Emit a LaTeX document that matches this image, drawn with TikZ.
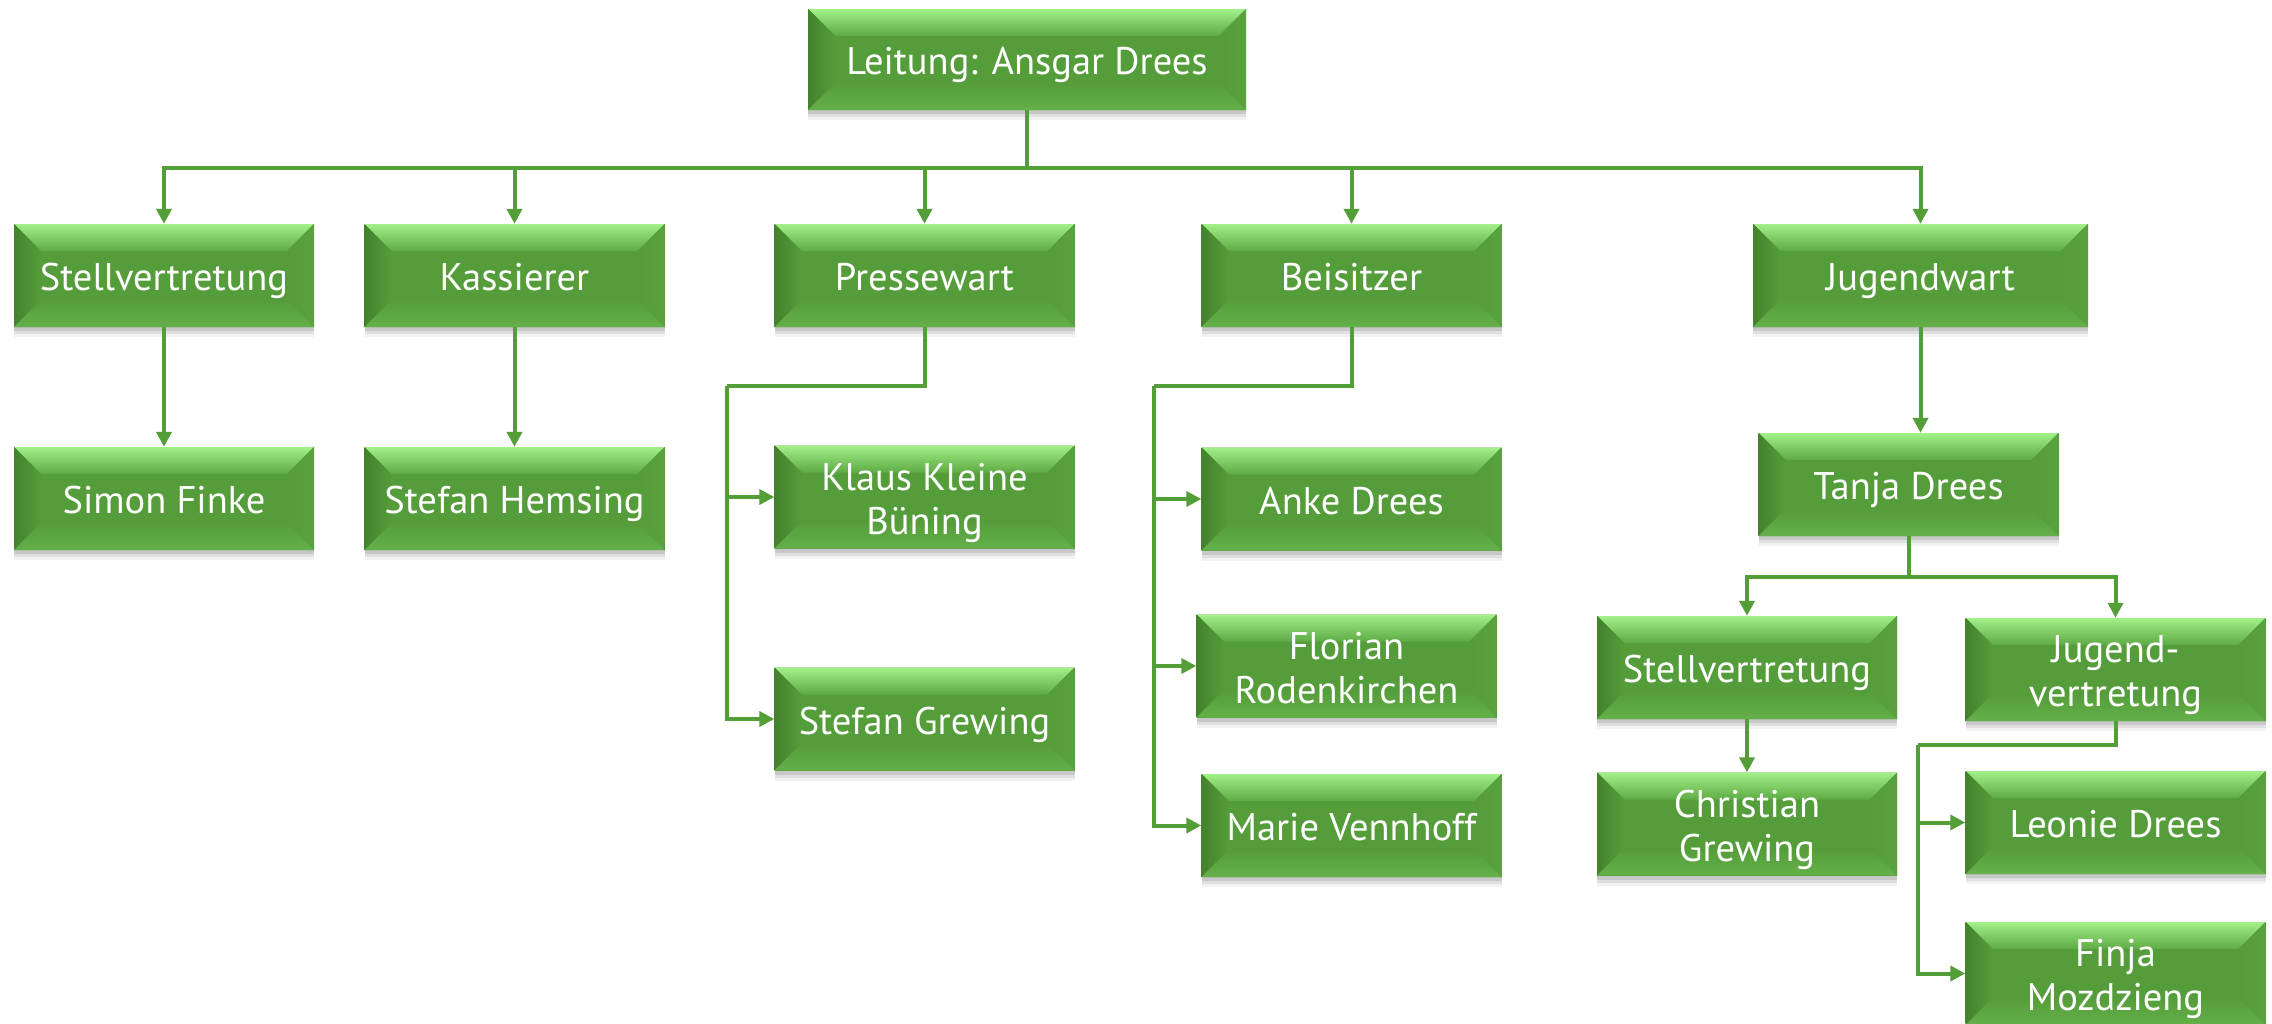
\documentclass[tikz,border=0pt]{standalone}
\usepackage{fontspec}
\setmainfont{PT Sans}
\usetikzlibrary{arrows.meta}
\definecolor{face}{RGB}{85,157,58}
\definecolor{hi}{RGB}{162,240,136}
\definecolor{himid}{RGB}{94,170,68}
\definecolor{dkL}{RGB}{68,130,46}
\definecolor{rgt}{RGB}{90,162,64}
\definecolor{bot}{RGB}{100,176,74}
\definecolor{linec}{RGB}{84,158,56}
\newcommand\tup{\rule{0pt}{1em}}
\newcommand\tdn{\rule[-0.2em]{0pt}{0.2em}}
\tikzset{
  orgbox/.style={rectangle, minimum width=#1, minimum height=103pt, inner sep=0pt,
    text=white, align=center, font=\fontsize{38.5}{44}\selectfont, fill=face,
    preaction={fill=black, fill opacity=0.05, transform canvas={yshift=-10pt}},
    preaction={fill=black, fill opacity=0.08, transform canvas={yshift=-7pt}},
    preaction={fill=black, fill opacity=0.10, transform canvas={yshift=-4pt}},
    path picture={
      \path (path picture bounding box.north west) coordinate (pNW)
            (path picture bounding box.north east) coordinate (pNE)
            (path picture bounding box.south west) coordinate (pSW)
            (path picture bounding box.south east) coordinate (pSE);
      \fill[top color=hi, bottom color=himid] (pNW) -- (pNE) -- ([xshift=-27pt,yshift=-27pt]pNE) -- ([xshift=27pt,yshift=-27pt]pNW) -- cycle;
      \fill[left color=dkL, right color=face] (pNW) -- ([xshift=27pt,yshift=-27pt]pNW) -- ([xshift=27pt,yshift=27pt]pSW) -- (pSW) -- cycle;
      \fill[left color=face, right color=rgt] (pNE) -- ([xshift=-27pt,yshift=-27pt]pNE) -- ([xshift=-27pt,yshift=27pt]pSE) -- (pSE) -- cycle;
      \fill[top color=face, bottom color=bot] (pSW) -- ([xshift=27pt,yshift=27pt]pSW) -- ([xshift=-27pt,yshift=27pt]pSE) -- (pSE) -- cycle;
    }},
  orgbox/.default=300pt,
  conn/.style={draw=linec, line width=4pt},
  arr/.style={conn, -{Triangle[width=15pt,length=15pt]}},
}
\begin{document}
\begin{tikzpicture}[x=1pt, y=-1pt]
\useasboundingbox (0,0) rectangle (2272,1023);
\clip (0,0) rectangle (2272,1023);
\fill[white] (0,0) rectangle (2272,1023);
% boxes
\node[orgbox=438pt, minimum height=101pt] (lead) at (1027,59.5) {\tup Leitung: Ansgar Drees\tdn};
\node[orgbox] (stell) at (164,275.5) {\tup Stellvertretung\tdn};
\node[orgbox] (kass) at (514.5,275.5) {\tup Kassierer\tdn};
\node[orgbox] (presse) at (924.5,275.5) {\tup Pressewart\tdn};
\node[orgbox] (beis) at (1351.5,275.5) {\tup Beisitzer\tdn};
\node[orgbox=335pt] (jugend) at (1920.5,275.5) {\tup Jugendwart\tdn};
\node[orgbox] (simon) at (164,498.5) {\tup Simon Finke\tdn};
\node[orgbox] (hemsing) at (514.5,498.5) {\tup Stefan Hemsing\tdn};
\node[orgbox] (klaus) at (924.5,497) {\tup Klaus Kleine\\Büning\tdn};
\node[orgbox] (sgrew) at (924.5,719) {\tup Stefan Grewing\tdn};
\node[orgbox] (anke) at (1351.5,499) {\tup Anke Drees\tdn};
\node[orgbox] (florian) at (1346.5,666) {\tup Florian\\Rodenkirchen\tdn};
\node[orgbox] (marie) at (1351.5,825.5) {\tup Marie Vennhoff\tdn};
\node[orgbox] (tanja) at (1908.5,484.5) {\tup Tanja Drees\tdn};
\node[orgbox] (stell2) at (1747,667.5) {\tup Stellvertretung\tdn};
\node[orgbox] (jvert) at (2115.5,669.5) {\tup Jugend-\\vertretung\tdn};
\node[orgbox] (christian) at (1747,824) {\tup Christian\\Grewing\tdn};
\node[orgbox] (leonie) at (2115.5,822.5) {\tup Leonie Drees\tdn};
\node[orgbox] (finja) at (2115.5,973.5) {\tup Finja\\Mozdzieng\tdn};
% junction points
\coordinate (bus) at (1027,168);
\coordinate (pbr) at (727,386);
\coordinate (bbr) at (1154,386);
\coordinate (tbr) at (1908.5,577);
\coordinate (jbr) at (1918,745);
% connectors
\draw[conn] (lead.south) -- (bus);
\draw[arr] (bus) -| (stell.north);
\draw[arr] (bus) -| (kass.north);
\draw[arr] (bus) -| (presse.north);
\draw[arr] (bus) -| (beis.north);
\draw[arr] (bus) -| (jugend.north);
\draw[arr] (stell.south) -- (simon.north);
\draw[arr] (kass.south) -- (hemsing.north);
\draw[conn] (presse.south) |- (pbr);
\draw[arr] (pbr) |- (klaus.west);
\draw[arr] (pbr) |- (sgrew.west);
\draw[conn] (beis.south) |- (bbr);
\draw[arr] (bbr) |- (anke.west);
\draw[arr] (bbr) |- (florian.west);
\draw[arr] (bbr) |- (marie.west);
\draw[arr] (jugend.south) -- (jugend.south |- tanja.north);
\draw[conn] (tanja.south) -- (tbr);
\draw[arr] (tbr) -| (stell2.north);
\draw[arr] (tbr) -| (jvert.north);
\draw[arr] (stell2.south) -- (christian.north);
\draw[conn] (jvert.south) |- (jbr);
\draw[arr] (jbr) |- (leonie.west);
\draw[arr] (jbr) |- (finja.west);
\end{tikzpicture}
\end{document}
